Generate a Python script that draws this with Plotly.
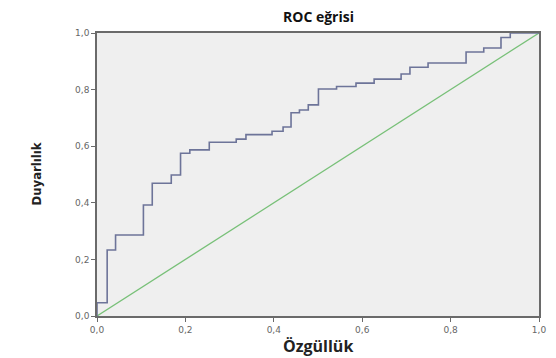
import plotly.graph_objects as go

# ROC curve (1 - specificity vs sensitivity), step points
fpr = [0.0, 0.0, 0.023, 0.042, 0.105, 0.125, 0.168, 0.189, 0.210, 0.254, 0.315,
       0.337, 0.396, 0.421, 0.439, 0.458, 0.478, 0.501, 0.542, 0.586, 0.627,
       0.688, 0.708, 0.749, 0.835, 0.875, 0.914, 0.935, 1.0]
tpr = [0.0, 0.047, 0.233, 0.286, 0.392, 0.469, 0.498, 0.575, 0.587, 0.614, 0.625,
       0.641, 0.653, 0.668, 0.718, 0.728, 0.746, 0.802, 0.811, 0.823, 0.837,
       0.855, 0.879, 0.894, 0.933, 0.947, 0.984, 1.0, 1.0]
ref_x = [0.0, 1.0]
ref_y = [0.0, 1.0]
tick_vals = [0.0, 0.2, 0.4, 0.6, 0.8, 1.0]
tick_text = ["0,0", "0,2", "0,4", "0,6", "0,8", "1,0"]

fig = go.Figure()
fig.add_trace(go.Scatter(x=ref_x, y=ref_y, mode="lines",
                         line=dict(color="#78c078", width=1.3), hoverinfo="skip"))
fig.add_trace(go.Scatter(x=fpr, y=tpr, mode="lines", line_shape="hv",
                         line=dict(color="#6d7499", width=1.6)))

axis_common = dict(range=[0, 1], tickvals=tick_vals, ticktext=tick_text,
                   showgrid=False, zeroline=False, showline=True, linecolor="#6a6a6a",
                   linewidth=1.5, mirror=True, ticks="outside", ticklen=4,
                   tickcolor="#6a6a6a", tickwidth=1.2,
                   tickfont=dict(family="DejaVu Sans", size=9, color="#666666"))

fig.update_layout(
    width=548, height=350,
    margin=dict(l=89, r=10, t=25, b=42),
    paper_bgcolor="white", plot_bgcolor="#efefef",
    showlegend=False,
    xaxis=dict(**axis_common),
    yaxis=dict(**axis_common),
    annotations=[
        dict(text="<b>ROC eğrisi</b>", xref="paper", yref="paper", x=0.5, y=1,
             yshift=17, showarrow=False, xanchor="center", yanchor="middle",
             font=dict(family="Open Sans", size=14, color="#111111")),
        dict(text="<b>Özgüllük</b>", xref="paper", yref="paper", x=0.5, y=0,
             yshift=-30, showarrow=False, xanchor="center", yanchor="middle",
             font=dict(family="Open Sans", size=16, color="#222222")),
        dict(text="<b>Duyarlılık</b>", xref="paper", yref="paper", x=0, y=0.5,
             xshift=-61, showarrow=False, textangle=-90, xanchor="center", yanchor="middle",
             font=dict(family="DejaVu Sans Condensed, DejaVu Sans",
                       size=13, color="#222222")),
    ],
)
fig.write_html("out.html")
